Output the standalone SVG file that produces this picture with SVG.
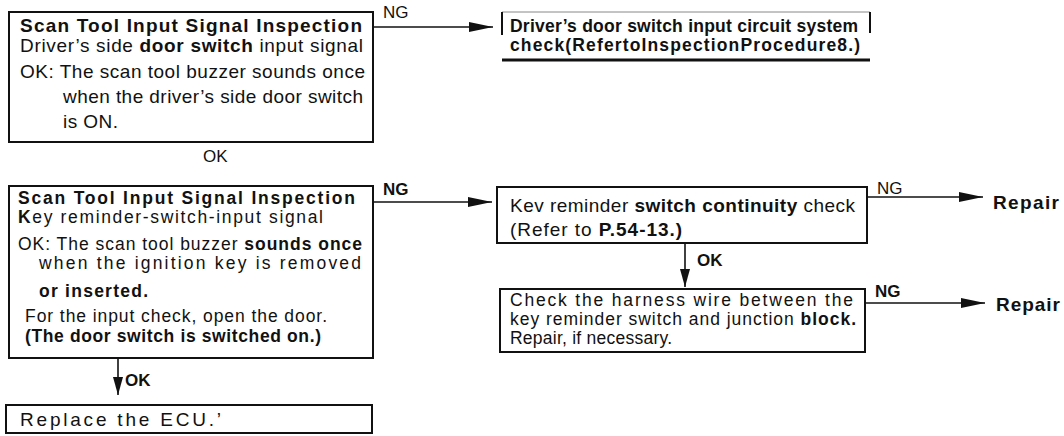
<svg xmlns="http://www.w3.org/2000/svg" width="1064" height="436" viewBox="0 0 1064 436">
<style>
text{font-family:"Liberation Sans",Arial,Helvetica,sans-serif;font-size:19px;fill:#111}
.b{font-weight:bold}
.s{font-size:17.5px}
.box{fill:none;stroke:#111;stroke-width:2}
.ln{fill:none;stroke:#111;stroke-width:1.6}
.thin{fill:none;stroke:#888;stroke-width:1}
.lbl{font-size:17px}
</style>
<defs>
<marker id="ah" viewBox="0 0 24 10" refX="24" refY="5" markerWidth="24" markerHeight="10" markerUnits="userSpaceOnUse" orient="auto">
<path d="M0,0 L24,5 L0,10 Z" fill="#111"/>
</marker>
<marker id="ahd" viewBox="0 0 10 18" refX="5" refY="18" markerWidth="10" markerHeight="18" markerUnits="userSpaceOnUse" orient="0">
<path d="M0,0 L10,0 L5,18 Z" fill="#111"/>
</marker>
</defs>

<g id="node-scan1">
<rect class="box" x="9" y="12" width="364" height="130"/>
<text x="20" y="32" class="b" textLength="342">Scan Tool Input Signal Inspection</text>
<text x="20" y="52" textLength="343">Driver’s side <tspan class="b">door switch</tspan> input signal</text>
<text x="20" y="78" textLength="345">OK: The scan tool buzzer sounds once</text>
<text x="63" y="103" textLength="300">when the driver’s side door switch</text>
<text x="63" y="128" textLength="55">is ON.</text>
</g>

<g id="node-check-door">
<path class="thin" d="M502,12 H870"/>
<path class="box" d="M502,12 V35 M870,12 V33"/>
<path d="M502,60 H870" stroke="#111" stroke-width="3"/>
<text x="510" y="32" class="b s" textLength="348">Driver’s door switch input circuit system</text>
<text x="510" y="51" class="b s" textLength="350">check(RefertoInspectionProcedure8.)</text>
</g>

<g id="node-scan2">
<rect class="box" x="9" y="186" width="364" height="172"/>
<text x="18" y="204" class="b s" textLength="337">Scan Tool Input Signal Inspection</text>
<text x="18" y="223" class="s" textLength="305"><tspan class="b">K</tspan>ey reminder-switch-input signal</text>
<text x="18" y="250" class="s" textLength="344">OK: The scan tool buzzer <tspan class="b">sounds once</tspan></text>
<text x="39" y="269" class="s" textLength="322">when the ignition key is removed</text>
<text x="39" y="297" class="b s" textLength="109">or inserted.</text>
<text x="25" y="322" class="s" textLength="302">For the input check, open the door.</text>
<text x="25" y="342" class="b s" textLength="296">(The door switch is switched on.)</text>
</g>

<g id="node-ecu">
<rect class="box" x="6" y="405" width="366" height="28"/>
<text x="20" y="426" font-size="20" textLength="201">Replace the ECU.’</text>
</g>

<g id="node-key-switch">
<rect class="box" x="497" y="187" width="370" height="56"/>
<text x="510" y="212" textLength="345">Kev reminder <tspan class="b">switch continuity</tspan> check</text>
<text x="510" y="236" textLength="172">(Refer to <tspan class="b">P.54-13.)</tspan></text>
</g>

<g id="node-harness">
<rect class="box" x="500" y="289" width="365" height="63"/>
<text x="510" y="306" class="s" textLength="343">Check the harness wire between the</text>
<text x="510" y="325" class="s" textLength="346">key reminder switch and junction <tspan class="b">block.</tspan></text>
<text x="510" y="344" class="s" textLength="162">Repair, if necessary.</text>
</g>

<g id="node-repair1">
<text x="993" y="209" class="b" font-size="20" textLength="66">Repair</text>
</g>
<g id="node-repair2">
<text x="996" y="311" class="b" font-size="20" textLength="64">Repair</text>
</g>

<g id="connectors">
<path class="ln" d="M373,27 H493" marker-end="url(#ah)"/>
<text x="383" y="18" class="lbl">NG</text>
<text x="203" y="162" class="lbl">OK</text>
<path class="ln" d="M373,202 H492" marker-end="url(#ah)"/>
<text x="383" y="195" class="b lbl">NG</text>
<path class="ln" d="M867,197 H983" marker-end="url(#ah)"/>
<text x="877" y="194" class="lbl">NG</text>
<path class="ln" d="M685,243 V287" marker-end="url(#ahd)"/>
<text x="697" y="266" class="b lbl">OK</text>
<path class="ln" d="M865,303 H985" marker-end="url(#ah)"/>
<text x="875" y="297" class="b lbl">NG</text>
<path class="ln" d="M118,358 V395" marker-end="url(#ahd)"/>
<text x="125" y="386" class="b lbl">OK</text>
</g>
</svg>
